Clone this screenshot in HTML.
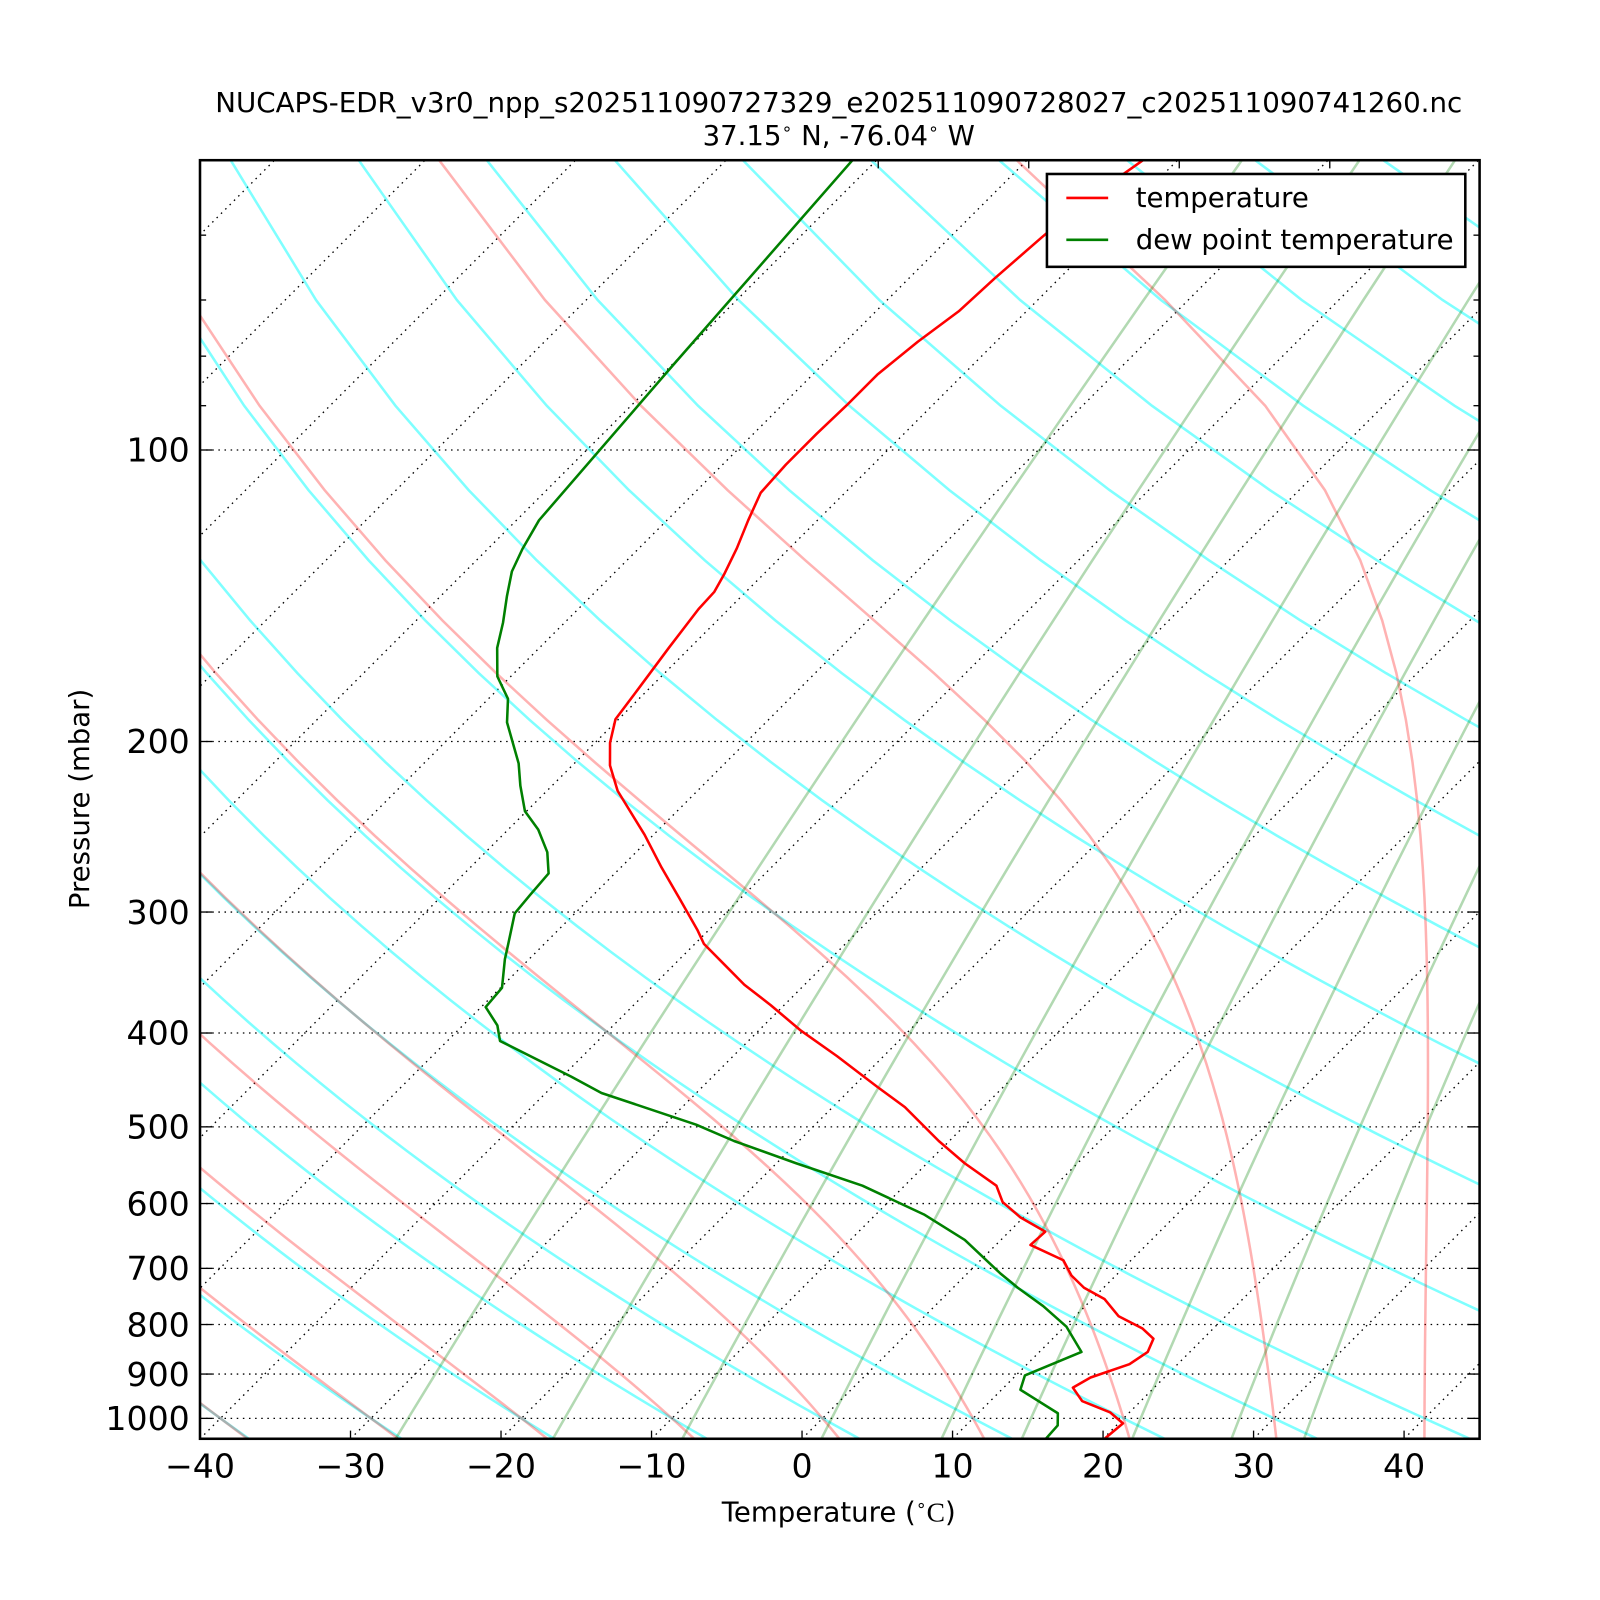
<!DOCTYPE html>
<html><head><meta charset="utf-8"><style>
html,body{margin:0;padding:0;background:#fff;}
svg{display:block;font-family:"DejaVu Sans","Liberation Sans",sans-serif;}
</style></head><body>
<svg id="chart" width="1600" height="1600" viewBox="0 0 1568 1568" xmlns="http://www.w3.org/2000/svg">
<rect x="0" y="0" width="1568" height="1568" fill="#fff"/>
<defs><clipPath id="plotclip"><rect x="196" y="157" width="1254" height="1253"/></clipPath></defs>
<text x="822" y="110" font-size="27" text-anchor="middle" textLength="1222" lengthAdjust="spacingAndGlyphs">NUCAPS-EDR_v3r0_npp_s202511090727329_e202511090728027_c202511090741260.nc</text>
<text x="822" y="142" font-size="27" text-anchor="middle">37.15<tspan font-size="17" dy="-10">∘</tspan><tspan dy="10"> N, -76.04</tspan><tspan font-size="17" dy="-10">∘</tspan><tspan dy="10"> W</tspan></text>
<g id="bg" clip-path="url(#plotclip)"></g>
<g id="prof" clip-path="url(#plotclip)"></g>
<g id="axes"></g>
<text x="822" y="1491" font-size="27" text-anchor="middle">Temperature (<tspan font-size="17" dy="-10">∘</tspan><tspan dy="10" font-family="Liberation Serif">C</tspan>)</text>
<text x="0" y="0" font-size="27" text-anchor="middle" transform="translate(87,783) rotate(-90)">Pressure (mbar)</text>
<g>
<rect x="1026" y="170.5" width="410" height="91" fill="#fff" stroke="#000" stroke-width="2.5"/>
<line x1="1045" y1="194" x2="1086" y2="194" stroke="#ff0000" stroke-width="2.5"/>
<text x="1113" y="203" font-size="27">temperature</text>
<line x1="1045" y1="235" x2="1086" y2="235" stroke="#008000" stroke-width="2.5"/>
<text x="1113" y="244" font-size="27">dew point temperature</text>
</g>
</svg>
<script>
const tempPressure = [1050,1012,985.6,959.6,929.6,907.4,879.2,854,827.5,807.7,784.5,752.8,733,712,686.6,662.1,641.5,620.1,597.9,575.1,545.2,517.1,477.1,454.5,422.6,397.7,374.3,356.6,339.7,323.6,313.5,290.1,269.8,249.6,224.9,211.7,200.6,189.7,176.5,160.1,146,140.1,134.5,126.3,118.2,110.7,103.5,96.2,89.9,83.6,77.3,71.9,66.5,60.4,55.7,50.2];
const temperature = [20.1,20.3,18.7,16.1,14.6,15.1,16.8,17.2,16.7,15.3,12.9,10.8,8.7,7.05,5.5,2.3,2.4,-0.2,-2.4,-3.9,-7.5,-10.7,-15.2,-18.4,-23.1,-27.2,-30.9,-34.0,-36.7,-39.4,-40.7,-44.1,-47.3,-50.6,-55.3,-57.5,-59,-60.2,-60.7,-61.4,-62,-62.1,-62.6,-63.5,-64.6,-65.6,-65.8,-65.8,-65.7,-65.7,-65.2,-64.5,-64.3,-63.9,-63.5,-62.3];
const dewPressure = [1050,1017,987.9,934.2,903,854,803.8,765.6,733,708.6,654.2,615.8,575.1,545.2,517.1,497.4,461.3,443.7,407.6,392.9,376.1,359.2,335.7,323.6,300.9,288,273.7,260.2,246.6,236.1,222.2,210.7,191.1,180.7,171.3,160.1,150.7,141.5,133.5,126.5,118.2,81.8,50.2];
const dewpoint = [16.2,16.1,15.3,11.25,10.6,12.8,10.1,7.2,4.3,2.2,-2.4,-6.8,-12.8,-18.7,-24.3,-27.9,-36.3,-39.4,-46.5,-47.7,-49.7,-49.9,-51.6,-52.4,-54.0,-54.2,-54.4,-55.9,-58.0,-60.1,-62.1,-63.7,-67.2,-68.7,-70.9,-72.8,-74.1,-75.6,-76.9,-77.7,-78.5,-79.9,-81.6];
const xTicks = [-40,-30,-20,-10,0,10,20,30,40];
const xTickLabels = ["\u221240","\u221230","\u221220","\u221210","0","10","20","30","40"];
const pTicks = [100,200,300,400,500,600,700,800,900,1000];
const pTickLabels = ["100","200","300","400","500","600","700","800","900","1000"];
const pMinor = [60,70,80,90];
const topTicks = [-80,-70,-60,-50];
const dryT0 = [-40,-30,-20,-10,0,10,20,30,40,60,80,100,120,140,160,180,200,220,240,260];
const moistT0 = [-40,-30,-20,-10,0,10,20,30,40];
const mixRatios = [0.0004,0.001,0.002,0.004,0.007,0.01,0.016,0.024,0.032];
const isoT = [-160,-150,-140,-130,-120,-110,-100,-90,-80,-70,-60,-50,-40,-30,-20,-10,0,10,20,30,40];

const NS="http://www.w3.org/2000/svg";
const X0=196,X1=1450,Y0=157,Y1=1410,PXT=14.75;
function yOf(p){return 441+949*Math.log10(p/100);}
function xOf(T,p){return X0+(T+40)*PXT+(Y1-yOf(p));}
function mk(tag,attrs,parent){const e=document.createElementNS(NS,tag);for(const k in attrs)e.setAttribute(k,attrs[k]);parent.appendChild(e);return e;}
const bg=document.getElementById('bg'),prof=document.getElementById('prof'),axes=document.getElementById('axes');
const plevs=[];for(let i=0;i<=50;i++)plevs.push(1050-20*i);
function pathFrom(ps,ts){return ps.map((p,i)=>(i?'L':'M')+xOf(ts[i],p).toFixed(2)+','+yOf(p).toFixed(2)).join(' ');}

isoT.forEach(T=>{
  const l=mk('line',{x1:xOf(T,1050),y1:yOf(1050),x2:xOf(T,50),y2:yOf(50),stroke:'#000','stroke-width':1.3,'stroke-dasharray':'1.5,4.5'},bg);
  
  
});
pTicks.forEach(p=>{
  const l=mk('line',{x1:X0,y1:yOf(p),x2:X1,y2:yOf(p),stroke:'#000','stroke-width':1.3,'stroke-dasharray':'1.5,4.5'},bg);
  
  
});
dryT0.forEach(t0=>{
  const ts=plevs.map(p=>(t0+273.15)*Math.pow(p/1000,0.2857)-273.15);
  const e=mk('path',{d:pathFrom(plevs,ts),fill:'none',stroke:'#00ffff','stroke-opacity':0.5,'stroke-width':2.5},bg);
  
  
});
function es(Tc){return 6.112*Math.exp(17.67*Tc/(Tc+243.5));}
function dTdp(p,T){const e=es(T-273.15);const rs=0.622*e/p;
  const Rd=287.04,Cp=1005.7,Lv=2.501e6,eps=0.622;
  return (Rd*T+Lv*rs)/(Cp+Lv*Lv*rs*eps/(Rd*T*T))/p;}
function rk(p,T,h){const k1=dTdp(p,T),k2=dTdp(p+h/2,T+h/2*k1),k3=dTdp(p+h/2,T+h/2*k2),k4=dTdp(p+h,T+h*k3);return T+h/6*(k1+2*k2+2*k3+k4);}
function moistAt(t0,ptarget){let T=t0+273.15,p=1000;const n=Math.max(1,Math.ceil(Math.abs(ptarget-p)/2));const h=(ptarget-p)/n;
  for(let i=0;i<n;i++){T=rk(p,T,h);p+=h;}return T;}
moistT0.forEach(t0=>{
  const ts=plevs.map(p=>moistAt(t0,p)-273.15);
  const e=mk('path',{d:pathFrom(plevs,ts),fill:'none',stroke:'#ff0000','stroke-opacity':0.3,'stroke-width':2.5},bg);
  
  
});
mixRatios.forEach(w=>{
  const ts=plevs.map(p=>{const e=p*w/(0.622+w);const l=Math.log(e/6.112);return 243.5*l/(17.67-l);});
  const e=mk('path',{d:pathFrom(plevs,ts),fill:'none',stroke:'#008000','stroke-opacity':0.3,'stroke-width':2.5},bg);
  
  
});
const tl=mk('path',{d:pathFrom(tempPressure,temperature),fill:'none',stroke:'#ff0000','stroke-width':2.5,'stroke-linejoin':'round'},prof);


const dl=mk('path',{d:pathFrom(dewPressure,dewpoint),fill:'none',stroke:'#008000','stroke-width':2.5,'stroke-linejoin':'round'},prof);


const fr=mk('rect',{x:X0,y:Y0,width:X1-X0,height:Y1-Y0,fill:'none',stroke:'#000','stroke-width':2.5},axes);


xTicks.forEach((T,i)=>{
  const x=X0+(T+40)*PXT;
  mk('line',{x1:x,y1:Y1,x2:x,y2:Y1-8,stroke:'#000','stroke-width':1.3},axes);
  const t=mk('text',{x:x,y:1448,'font-size':32.5,'text-anchor':'middle'},axes);
  t.textContent=xTickLabels[i];
  
  
});
topTicks.forEach(T=>{
  const x=xOf(T,50);
  mk('line',{x1:x,y1:Y0,x2:x,y2:Y0+8,stroke:'#000','stroke-width':1.3},axes);
});
pTicks.forEach((p,i)=>{
  const y=yOf(p);
  mk('line',{x1:X0,y1:y,x2:X0+12,y2:y,stroke:'#000','stroke-width':1.3},axes);
  mk('line',{x1:X1,y1:y,x2:X1-12,y2:y,stroke:'#000','stroke-width':1.3},axes);
  const t=mk('text',{x:186,y:y+11.5,'font-size':32.5,'text-anchor':'end'},axes);
  t.textContent=pTickLabels[i];
  
  
});
pMinor.forEach(p=>{
  const y=yOf(p);
  mk('line',{x1:X0,y1:y,x2:X0+6,y2:y,stroke:'#000','stroke-width':1.3},axes);
  mk('line',{x1:X1,y1:y,x2:X1-6,y2:y,stroke:'#000','stroke-width':1.3},axes);
});
</script>
</body></html>
